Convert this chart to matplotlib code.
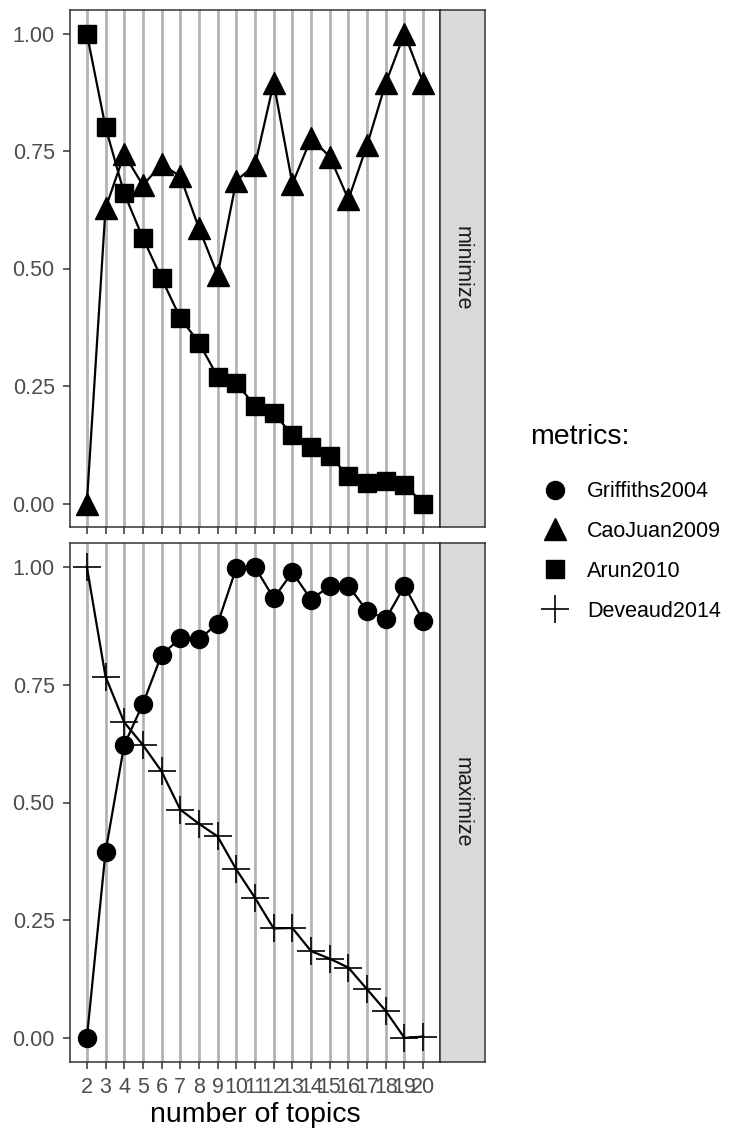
import matplotlib
matplotlib.use("Agg")
import matplotlib.pyplot as plt
from matplotlib.lines import Line2D

plt.rcParams["font.family"] = ["Liberation Sans", "DejaVu Sans"]

# number of topics on the x axis
topics = list(range(2, 21))

# normalised metric values, one list per metric
griffiths2004 = [0.000, 0.395, 0.622, 0.709, 0.813, 0.848, 0.846, 0.879, 0.997, 0.999,
                 0.933, 0.988, 0.930, 0.959, 0.959, 0.906, 0.889, 0.959, 0.885]
caojuan2009 = [0.000, 0.628, 0.743, 0.677, 0.722, 0.696, 0.586, 0.486, 0.687, 0.720,
               0.895, 0.680, 0.777, 0.738, 0.647, 0.763, 0.895, 1.000, 0.895]
arun2010 = [1.000, 0.801, 0.660, 0.565, 0.479, 0.395, 0.342, 0.270, 0.256, 0.208,
            0.192, 0.146, 0.120, 0.102, 0.058, 0.044, 0.048, 0.040, 0.000]
deveaud2014 = [1.000, 0.767, 0.670, 0.622, 0.566, 0.485, 0.455, 0.428, 0.358, 0.298,
               0.233, 0.234, 0.185, 0.169, 0.150, 0.104, 0.058, 0.001, 0.004]

metric_names = ["Griffiths2004", "CaoJuan2009", "Arun2010", "Deveaud2014"]
y_ticks = [0.00, 0.25, 0.50, 0.75, 1.00]
y_labels = ["0.00", "0.25", "0.50", "0.75", "1.00"]

# marker style per metric
STYLE = {
    "Griffiths2004": dict(marker="o", markersize=13),
    "CaoJuan2009": dict(marker="^", markersize=15.5),
    "Arun2010": dict(marker="s", markersize=12.5),
    "Deveaud2014": dict(marker="+", markersize=19.5, markeredgewidth=1.2),
}

W, H = 742, 1135
fig = plt.figure(figsize=(W / 100, H / 100), dpi=100)


def px_box(x0, y0, x1, y1):
    # pixel box (top-left origin) -> figure fraction rect
    return [x0 / W, 1 - y1 / H, (x1 - x0) / W, (y1 - y0) / H]


panels = [
    ("minimize", px_box(70, 10, 440, 527), [("CaoJuan2009", caojuan2009), ("Arun2010", arun2010)]),
    ("maximize", px_box(70, 543, 440, 1062), [("Griffiths2004", griffiths2004), ("Deveaud2014", deveaud2014)]),
]

axes = []
for name, rect, series in panels:
    ax = fig.add_axes(rect)
    for label, values in series:
        ax.plot(topics, values, color="black", lw=1.6, **STYLE[label],
                markerfacecolor="black", markeredgecolor="black")
    ax.set_xlim(1.1, 20.9)
    ax.set_ylim(-0.05, 1.05)
    ax.set_xticks(topics)
    ax.set_yticks(y_ticks)
    ax.set_yticklabels(y_labels)
    ax.grid(axis="x", color="#b3b3b3", lw=2.0)
    ax.grid(axis="y", visible=False)
    ax.set_axisbelow(True)
    for sp in ax.spines.values():
        sp.set_color("#333333")
        sp.set_linewidth(1.1)
    ax.tick_params(axis="both", colors="#333333", labelcolor="#4d4d4d",
                   labelsize=15.5, length=5, width=1.1, pad=6)

    # facet strip on the right
    r = rect
    sax = fig.add_axes([r[0] + r[2], r[1], 45 / W, r[3]])
    sax.set_facecolor("#d9d9d9")
    sax.set_xticks([])
    sax.set_yticks([])
    for sp in sax.spines.values():
        sp.set_color("#333333")
        sp.set_linewidth(1.1)
    sax.text(0.5, 0.5, name, rotation=270, ha="center", va="center",
             fontsize=15.5, color="#1a1a1a", transform=sax.transAxes)
    axes.append(ax)

axes[0].tick_params(axis="x", labelbottom=False)
axes[1].set_xlabel("number of topics", fontsize=20.5, color="black", labelpad=3)

# legend with marker keys only, title drawn separately
fig.text(530 / W, 1 - 437 / H, "metrics:", fontsize=20.5, ha="left", va="center")
handles = [Line2D([], [], linestyle="none", color="black", markerfacecolor="black",
                  markeredgecolor="black", **STYLE[k]) for k in metric_names]
fig.legend(handles, metric_names, loc="center left",
           bbox_to_anchor=(531 / W, 1 - 551.5 / H),
           frameon=False, fontsize=15.5, handlelength=2.2, handletextpad=0.4,
           labelspacing=0.88, borderpad=0.0, borderaxespad=0.0)

fig.savefig("out.png", dpi=100)
